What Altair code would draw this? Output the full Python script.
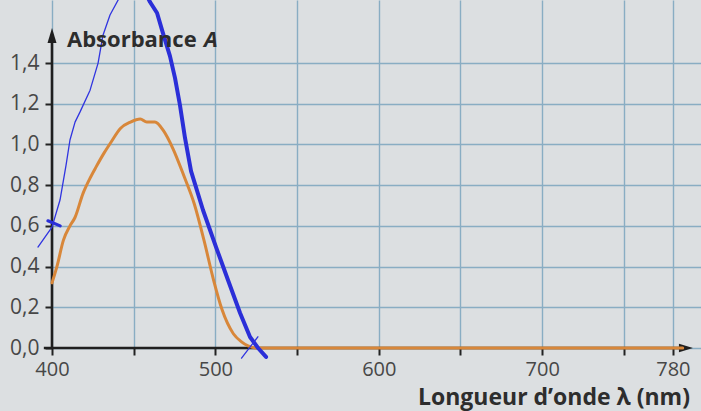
import altair as alt
import pandas as pd

# ---- data ----
orange_wl = [400, 403, 407, 411, 414, 419, 423, 427, 432, 436, 442, 448, 454, 458, 463, 468,
             474, 481, 487, 493, 499, 504, 511, 516, 520, 525, 540, 600, 700, 786]
orange_abs = [0.32, 0.40, 0.53, 0.60, 0.64, 0.76, 0.83, 0.89, 0.96, 1.01, 1.08, 1.11, 1.125,
              1.11, 1.11, 1.07, 0.98, 0.84, 0.71, 0.53, 0.33, 0.19, 0.07, 0.03, 0.01, 0.0,
              0.0, 0.0, 0.0, 0.0]

# hand-drawn blue annotations
thick_wl = [457.5, 460, 464.3, 467.9, 472.2, 475.3, 478.3, 481.4, 485.1, 492.4, 500.4, 507.7,
            515.1, 521.2, 526.1, 531]
thick_abs = [1.74, 1.70, 1.646, 1.547, 1.434, 1.326, 1.194, 1.032, 0.869, 0.678, 0.496, 0.334,
             0.172, 0.054, 0.0, -0.044]
thin_wl = [391.4, 400, 404.9, 408.6, 411, 414.1, 417.1, 423.3, 428.2, 431.2, 435.5, 440.4, 442.8]
thin_abs = [0.496, 0.594, 0.727, 0.899, 1.022, 1.11, 1.159, 1.267, 1.40, 1.537, 1.636, 1.709, 1.74]
mark1_wl = [397.5, 405]
mark1_abs = [0.625, 0.60]
mark2_wl = [516, 526]
mark2_abs = [-0.05, 0.055]

x_ticks = [400, 450, 500, 550, 600, 650, 700, 750, 780]
y_ticks = [0.0, 0.2, 0.4, 0.6, 0.8, 1.0, 1.2, 1.4]

axis_x_from, axis_x_to = 395, 786
axis_y_top = 1.535
arrow_x_pos = 788

y_title = ["Absorbance", "A"]
x_title = "Longueur d\u2019onde \u03bb (nm)"

FONT = "Open Sans"
X_DOMAIN = [400, 797.2]
Y_DOMAIN = [0, 1.71]

xs = alt.Scale(domain=X_DOMAIN, nice=False, zero=False)
ys = alt.Scale(domain=Y_DOMAIN, nice=False, zero=False)

x_axis = alt.Axis(values=x_ticks, grid=True, domain=False, ticks=True, tickColor="#222222",
                  tickWidth=2, tickSize=7, labelFont=FONT, labelFontSize=20,
                  labelColor="#474747", labelPadding=4, labelOverlap=False, labelFlush=False,
                  labelExpr="(datum.value % 100 == 0 || datum.value == 780) ? datum.label : ''",
                  gridColor="#89adc3", gridWidth=1.4, title=None)
y_axis = alt.Axis(values=y_ticks, grid=True, domain=False, ticks=True, tickColor="#222222",
                  tickWidth=2, tickSize=7, labelFont=FONT, labelFontSize=21,
                  labelColor="#474747", labelPadding=6,
                  labelExpr="replace(format(datum.value, '.1f'), '.', ',')",
                  gridColor="#89adc3", gridWidth=1.4, title=None)

X = alt.X("wl:Q", scale=xs, axis=x_axis)
Y = alt.Y("A:Q", scale=ys, axis=y_axis)


def line_layer(wl, a, color, width, interp="linear"):
    df = pd.DataFrame({"wl": wl, "A": a, "i": range(len(wl))})
    return alt.Chart(df).mark_line(color=color, strokeWidth=width, strokeCap="round",
                                   strokeJoin="round", interpolate=interp).encode(
        x=X, y=Y, order="i:Q")


orange = line_layer(orange_wl, orange_abs, "#d8873a", 3, "monotone")

axes_df = pd.DataFrame({
    "wl": [axis_x_from, 400], "wl2": [axis_x_to, 400],
    "A": [0, 0], "A2": [0, axis_y_top]})
axes = alt.Chart(axes_df).mark_rule(color="#1f1f1f", strokeWidth=2.6).encode(
    x=X, x2="wl2:Q", y=Y, y2="A2:Q")

arrow_up = alt.Chart(pd.DataFrame({"wl": [400], "A": [axis_y_top]})).mark_point(
    shape="M0,-1L0.6,1L-0.6,1Z", size=225, filled=True, opacity=1, color="#1f1f1f"
).encode(x=X, y=Y)
arrow_right = alt.Chart(pd.DataFrame({"wl": [arrow_x_pos], "A": [0]})).mark_point(
    shape="M1,0L-1,0.6L-1,-0.6Z", size=196, filled=True, opacity=1, color="#1f1f1f"
).encode(x=X, y=Y)

thick = line_layer(thick_wl, thick_abs, "#2b2fd8", 4)
thin = line_layer(thin_wl, thin_abs, "#3034e0", 1.3)
m1 = line_layer(mark1_wl, mark1_abs, "#2b2fd8", 3.2)
m2 = line_layer(mark2_wl, mark2_abs, "#3034e0", 1.3)

t1 = alt.Chart(pd.DataFrame({"t": [y_title[0]]})).mark_text(
    font=FONT, fontSize=22, fontWeight="bold", color="#2d2d2d", align="left",
    baseline="alphabetic").encode(x=alt.value(15), y=alt.value(47), text="t:N")
t2 = alt.Chart(pd.DataFrame({"t": [y_title[1]]})).mark_text(
    font=FONT, fontSize=22, fontWeight="bold", fontStyle="italic", color="#2d2d2d",
    align="left", baseline="alphabetic").encode(x=alt.value(152), y=alt.value(47), text="t:N")
t3 = alt.Chart(pd.DataFrame({"t": [x_title]})).mark_text(
    font=FONT, fontSize=23, fontWeight="bold", color="#2d2d2d", align="right",
    baseline="alphabetic").encode(x=alt.value(638), y=alt.value(405), text="t:N")

chart = alt.layer(axes, arrow_up, arrow_right, orange, thick, thin, m1, m2, t1, t2, t3).properties(
    width=649, height=348,
    padding={"left": 52, "top": 0, "right": 0, "bottom": 63},
    autosize=alt.AutoSizeParams(type="none"),
    background="#dcdfe1",
).configure_view(stroke=None)

chart.save("out.html", embed_options={"renderer": "svg", "actions": False})
